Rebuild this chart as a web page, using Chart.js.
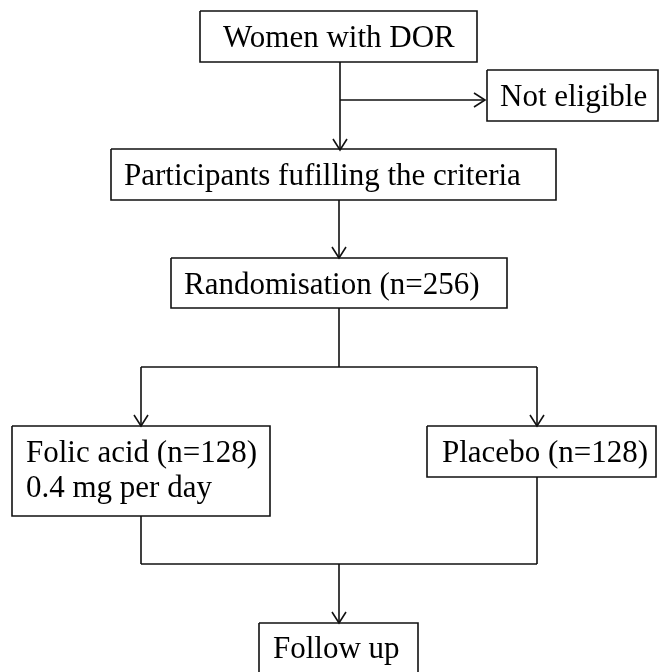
<!DOCTYPE html>
<html>
<head>
<meta charset="utf-8">
<script src="https://cdn.jsdelivr.net/npm/chart.js@4"></script>
<style>
  html, body { margin: 0; padding: 0; background: #fff; }
  #wrap { width: 659px; height: 672px; }
</style>
</head>
<body>
<div id="wrap"><canvas id="flujo" width="659" height="672"></canvas></div>
<script>
// cajas del diagrama (coordenadas en unidades de los ejes)
const cajaTexto = [
  ['Women with DOR'],
  ['Not eligible'],
  ['Participants fufilling the criteria'],
  ['Randomisation (n=256)'],
  ['Folic acid (n=128)', '0.4 mg per day'],
  ['Placebo (n=128)'],
  ['Follow up']
];
const cajaIzq = [200, 487, 111, 171, 12, 427, 259];
const cajaDer = [477, 658, 556, 507, 270, 656, 418];
const cajaArriba = [11, 70, 149, 258, 426, 426, 623];
const cajaAbajo = [62, 121, 200, 308, 516, 477, 676];
const textoIzq = [223, 500, 124, 184, 26, 442, 273];
const textoBase = [[47], [106], [185], [294], [462, 497], [462], [658]];

// conectores: x1, y1, x2, y2 y si terminan en flecha
const conX1 = [340, 340, 339, 339, 141, 141, 537, 141, 537, 141, 339];
const conY1 = [62, 100, 200, 308, 367, 367, 367, 516, 477, 564, 564];
const conX2 = [340, 485, 339, 339, 537, 141, 537, 141, 537, 537, 339];
const conY2 = [150, 100, 258, 367, 367, 426, 426, 564, 564, 564, 623];
const conFlecha = [true, true, true, false, false, true, true, false, false, false, true];

const colorLinea = '#111';
const largoFlecha = 11;
const anchoFlecha = 7;

const datasets = [];
for (let i = 0; i < cajaTexto.length; i++) {
  datasets.push({
    data: [
      {x: cajaIzq[i], y: cajaArriba[i]},
      {x: cajaDer[i], y: cajaArriba[i]},
      {x: cajaDer[i], y: cajaAbajo[i]},
      {x: cajaIzq[i], y: cajaAbajo[i]},
      {x: cajaIzq[i], y: cajaArriba[i]}
    ]
  });
}
for (let i = 0; i < conX1.length; i++) {
  datasets.push({
    data: [{x: conX1[i], y: conY1[i]}, {x: conX2[i], y: conY2[i]}]
  });
  if (conFlecha[i]) {
    // punta de flecha abierta en el extremo final
    const dx = conX2[i] - conX1[i], dy = conY2[i] - conY1[i];
    const len = Math.hypot(dx, dy);
    const ux = dx / len, uy = dy / len;
    const bx = conX2[i] - ux * largoFlecha, by = conY2[i] - uy * largoFlecha;
    datasets.push({
      data: [
        {x: bx - uy * anchoFlecha, y: by + ux * anchoFlecha},
        {x: conX2[i], y: conY2[i]},
        {x: bx + uy * anchoFlecha, y: by - ux * anchoFlecha}
      ]
    });
  }
}
datasets.forEach(d => {
  d.borderColor = colorLinea;
  d.borderWidth = 1.6;
  d.pointRadius = 0;
  d.fill = false;
  d.tension = 0;
  d.clip = false;
  d.showLine = true;
});

// textos de las cajas
const textos = {
  id: 'textos',
  afterDatasetsDraw(chart) {
    const ctx = chart.ctx;
    const sx = chart.scales.x, sy = chart.scales.y;
    ctx.save();
    ctx.font = '31px "Liberation Serif", "Times New Roman", serif';
    ctx.fillStyle = '#000';
    ctx.textAlign = 'left';
    ctx.textBaseline = 'alphabetic';
    cajaTexto.forEach((lineas, i) => {
      lineas.forEach((t, j) => {
        ctx.fillText(t, sx.getPixelForValue(textoIzq[i]), sy.getPixelForValue(textoBase[i][j]));
      });
    });
    ctx.restore();
  }
};

new Chart(document.getElementById('flujo'), {
  type: 'scatter',
  data: {datasets: datasets},
  options: {
    responsive: false,
    animation: false,
    layout: {padding: 0},
    scales: {
      x: {type: 'linear', min: 0, max: 659, display: false},
      y: {type: 'linear', min: 0, max: 672, reverse: true, display: false}
    },
    plugins: {
      legend: {display: false},
      tooltip: {enabled: false}
    }
  },
  plugins: [textos]
});
</script>
</body>
</html>
